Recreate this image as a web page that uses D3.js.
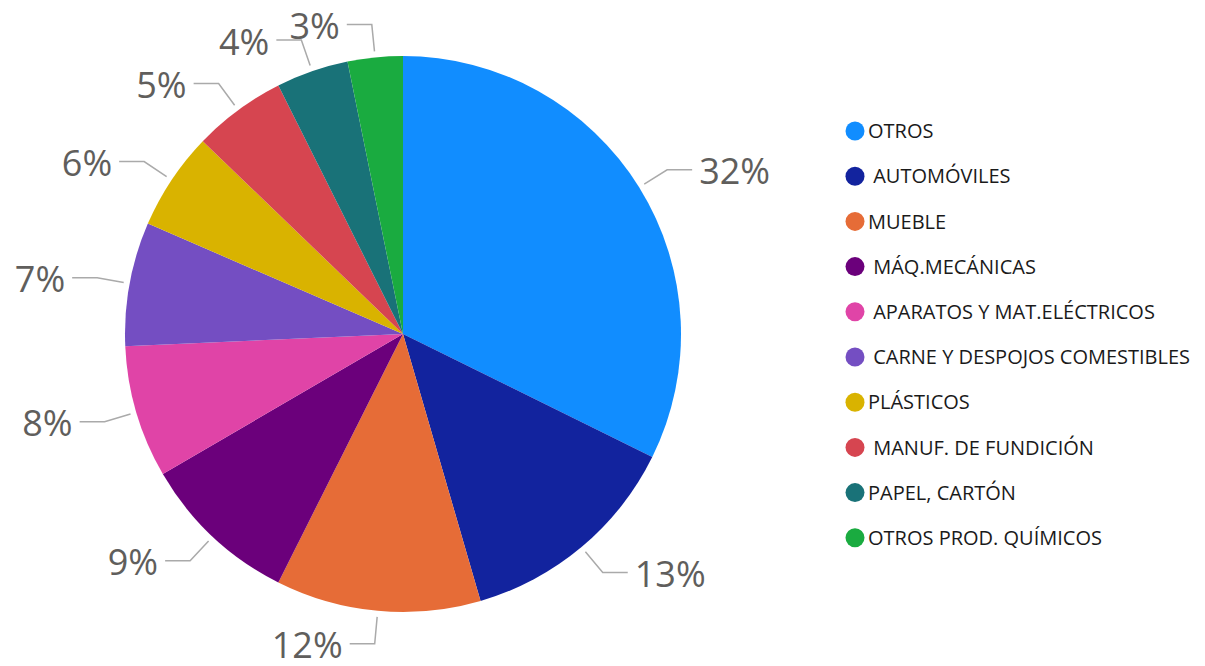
<!DOCTYPE html>
<html>
<head>
<meta charset="utf-8">
<script src="https://cdn.jsdelivr.net/npm/d3@7"></script>
<style>
  body { margin: 0; background: #fff; }
  svg text { white-space: pre; }
</style>
</head>
<body>
<svg id="chart" width="1205" height="666"></svg>
<script>
// categories (leading spaces are in the original labels)
const categories = ["OTROS", " AUTOMÓVILES", "MUEBLE", " MÁQ.MECÁNICAS", " APARATOS Y MAT.ELÉCTRICOS",
    " CARNE Y DESPOJOS COMESTIBLES", "PLÁSTICOS", " MANUF. DE FUNDICIÓN", "PAPEL, CARTÓN", "OTROS PROD. QUÍMICOS"];
const shares = [32.3, 13.2, 11.9, 9.2, 7.7, 7.2, 5.7, 5.4, 4.2, 3.2];
const colors = ["#118DFF", "#12239E", "#E66C37", "#6B007B", "#E044A7",
    "#744EC2", "#D9B300", "#D64550", "#197278", "#1AAB40"];

const data = categories.map((c, i) => ({ name: c, value: shares[i] }));
const total = d3.sum(shares);

const svg = d3.select("#chart");
const cx = 403, cy = 334, r = 278;

const color = d3.scaleOrdinal().domain(categories).range(colors);

const pie = d3.pie().value(d => d.value).sort(null);
const arc = d3.arc().innerRadius(0).outerRadius(r);
const arcs = pie(data);

const g = svg.append("g").attr("transform", `translate(${cx},${cy})`);

g.selectAll("path")
    .data(arcs)
    .join("path")
    .attr("d", arc)
    .attr("fill", d => color(d.data.name));

// leader lines + labels
const fmt = d3.format(".0f");
arcs.forEach(d => {
    const a = (d.startAngle + d.endAngle) / 2;
    const sx = Math.sin(a), sy = -Math.cos(a);
    const p1 = [sx * (r + 6), sy * (r + 6)];
    const p2 = [sx * (r + 33), sy * (r + 33)];
    const right = sx >= 0;
    const p3 = [p2[0] + (right ? 25 : -25), p2[1]];
    g.append("polyline")
        .attr("points", [p1, p2, p3].map(p => p.join(",")).join(" "))
        .attr("fill", "none")
        .attr("stroke", "#aaaaaa")
        .attr("stroke-width", 1.5);
    g.append("text")
        .attr("x", p3[0] + (right ? 7 : -7))
        .attr("y", p3[1])
        .attr("dy", "0.4em")
        .attr("text-anchor", right ? "start" : "end")
        .attr("font-family", "'Open Sans', sans-serif")
        .attr("font-size", "36px")
        .attr("fill", "#605E5C")
        .text(fmt(d.data.value / total * 100) + "%");
});

// legend
const legend = svg.append("g").attr("transform", "translate(855,131)");
const row = legend.selectAll("g")
    .data(categories)
    .join("g")
    .attr("transform", (d, i) => `translate(0, ${i * 45.2})`);

row.append("circle")
    .attr("r", 9.5)
    .attr("fill", d => color(d));

row.append("text")
    .attr("x", 13)
    .attr("dy", "0.36em")
    .attr("font-family", "'Open Sans', sans-serif")
    .attr("font-size", "20px")
    .attr("fill", "#1a1a1a")
    .text(d => d);
</script>
</body>
</html>
